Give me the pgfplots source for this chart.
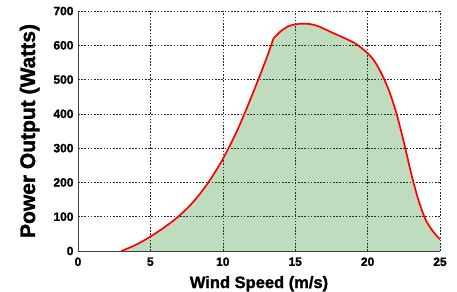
\documentclass[border=0pt]{standalone}
\usepackage{fontspec}
\setmainfont{Liberation Sans}[BoldFeatures={FakeBold=1.5}]
\usepackage{pgfplots}
\pgfplotsset{compat=1.18}
\definecolor{fillgreen}{RGB}{0,115,0}
\pgfplotstableread{
x y
3 0
4 18
5 42
6 70
7 103
8 145
9 200
10 268
11 352
12 452
13 560
13.5 620
14 641
14.5 655
15 661
15.5 663
16 662
16.5 657
17 648
17.6 636
18.4 621
19.2 604
20 577
20.5 552
21 514
21.5 465
22 400
22.5 318
23 228
23.5 150
24 92
24.5 58
25 34
}\datatable
\pgfplotstableread{
x y
3 0
4 18
5 42
6 70
7 103
8 145
9 200
10 268
11 352
12 452
13 560
13.5 620
}\dataA
\pgfplotstableread{
x y
13.5 620
14 641
14.5 655
15 661
15.5 663
16 662
16.5 657
17 648
17.6 636
18.4 621
19.2 604
20 577
20.5 552
21 514
21.5 465
22 400
22.5 318
23 228
23.5 150
24 92
24.5 58
25 34
}\dataB
\begin{document}
\begin{tikzpicture}
\useasboundingbox (-78bp,-41bp) rectangle (379bp,251bp);
\begin{axis}[
  scale only axis,
  width=362bp, height=240bp,
  xmin=0, xmax=25, ymin=0, ymax=700,
  xtick={0,5,10,15,20,25},
  xticklabels={0,5,10,15,20,25},
  ytick={0,100,200,300,400,500,600,700},
  yticklabels={0,100,200,300,400,500,600,700},
  axis x line=bottom, axis y line=left,
  hide obscured x ticks=false, hide obscured y ticks=false,
  axis line style={-, draw=black!75, line width=0.9pt},
  major tick length=0pt,
  grid=major,
  major grid style={black!85, dash pattern=on 1.6pt off 1.6pt, line width=0.6pt},
  tick label style={font=\fontsize{12bp}{14bp}\selectfont\bfseries},
  xticklabel style={yshift=-3bp},
  yticklabel style={xshift=-1bp},
  xlabel={Wind Speed (m/s)},
  ylabel={Power Output (Watts)},
  xlabel style={font=\fontsize{16.5bp}{18bp}\selectfont\bfseries, at={(axis description cs:0.5,0)}, anchor=base, yshift=-37bp},
  ylabel style={font=\fontsize{21bp}{24bp}\selectfont\bfseries, at={(axis description cs:0,0.5)}, anchor=base, yshift=43bp},
  clip=false,
]
\addplot[draw=none, fill=fillgreen, fill opacity=0.25, smooth] table[x=x,y=y] {\datatable} -- (axis cs:25,0) -- (axis cs:3,0) -- cycle;
\addplot[red, line width=1.7pt, smooth] table[x=x,y=y] {\dataA};
\addplot[red, line width=1.7pt, smooth] table[x=x,y=y] {\dataB};
\end{axis}
\end{tikzpicture}
\end{document}
